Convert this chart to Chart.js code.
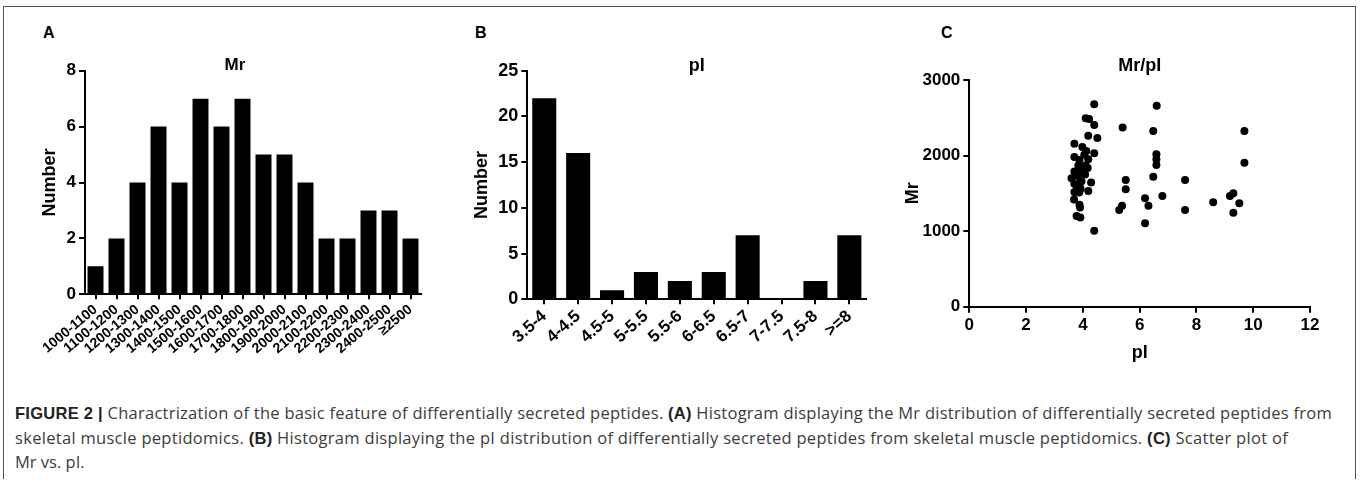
<!DOCTYPE html>
<html>
<head>
<meta charset="utf-8">
<script src="https://cdn.jsdelivr.net/npm/chart.js@4.4.1/dist/chart.umd.min.js"></script>
<style>
  html, body { margin: 0; padding: 0; background: #fff; width: 1360px; height: 489px; overflow: hidden; font-family: "Liberation Sans", Arial, sans-serif; }
  .frame { position: absolute; left: 3px; top: 6px; width: 1351px; height: 472px; border: 1.5px solid #555; border-bottom: none; }
  canvas { position: absolute; top: 40px; }
  .letter { position: absolute; top: 24px; font-weight: bold; font-size: 16px; color: #000; }
  .caption { position: absolute; left: 15px; top: 401px; font-family: "Open Sans", sans-serif; font-size: 16.5px; line-height: 23.5px; color: #3c3c3c; white-space: nowrap; }
  .caption b { color: #222; font-family: "Liberation Sans", Arial, sans-serif; }
  .cap-line { display: inline-block; }
</style>
</head>
<body>
<div class="frame"></div>
<div class="letter" style="left:43px">A</div>
<div class="letter" style="left:475px">B</div>
<div class="letter" style="left:941px">C</div>

<canvas id="mrChart" width="419" height="340" style="left:10px"></canvas>
<canvas id="piChart" width="483" height="340" style="left:455px"></canvas>
<canvas id="scatterChart" width="432" height="340" style="left:890px"></canvas>

<div class="caption">
<span class="cap-line" data-w="1317"><b>FIGURE 2 |</b> Charactrization of the basic feature of differentially secreted peptides. <b>(A)</b> Histogram displaying the Mr distribution of differentially secreted peptides from</span><br>
<span class="cap-line" data-w="1273">skeletal muscle peptidomics. <b>(B)</b> Histogram displaying the pI distribution of differentially secreted peptides from skeletal muscle peptidomics. <b>(C)</b> Scatter plot of</span><br>
<span>Mr vs. pI.</span>
</div>

<script>
// Panel A: Mr histogram
const mrBins = ['1000-1100', '1100-1200', '1200-1300', '1300-1400', '1400-1500', '1500-1600', '1600-1700', '1700-1800',
    '1800-1900', '1900-2000', '2000-2100', '2100-2200', '2200-2300', '2300-2400', '2400-2500', '\u22652500'];
const mrCounts = [1, 2, 4, 6, 4, 7, 6, 7, 5, 5, 4, 2, 2, 3, 3, 2];

// Panel B: pI histogram
const piBins = ['3.5-4', '4-4.5', '4.5-5', '5-5.5', '5.5-6', '6-6.5', '6.5-7', '7-7.5', '7.5-8', '>=8'];
const piCounts = [22, 16, 1, 3, 2, 3, 7, 0, 2, 7];

// Panel C: Mr vs pI, one entry per peptide
const peptidePI = [
    3.70, 3.98, 3.70, 3.88, 3.84, 3.91, 3.70, 3.80, 3.84, 3.60, 3.70, 3.89, 3.95, 3.84, 3.70, 3.92, 3.80, 3.87, 3.69, 3.90, 3.88, 3.78, 3.91,
    4.40, 4.10, 4.22, 4.40, 4.19, 4.51, 4.12, 4.40, 4.05, 4.19, 4.10, 4.17, 4.08, 4.29, 4.19, 4.40,
    5.40, 5.51, 5.51, 5.38, 5.28,
    6.19, 6.31, 6.19,
    6.60, 6.48, 6.59, 6.59, 6.59, 6.48, 6.80,
    7.60, 7.60,
    8.59, 9.18, 9.30, 9.51, 9.30, 9.69, 9.69
];
const peptideMr = [
    2157, 2114, 1981, 1940, 1870, 1812, 1790, 1760, 1725, 1700, 1628, 1628, 1660, 1540, 1518, 1560, 1580, 1510, 1420, 1314, 1350, 1200, 1182,
    2679, 2493, 2484, 2404, 2263, 2232, 2060, 2030, 2010, 1950, 1870, 1834, 1750, 1645, 1531, 1004,
    2370, 1677, 1553, 1337, 1280,
    1434, 1337, 1103,
    2660, 2325, 2017, 1951, 1875, 1720, 1465,
    1677, 1280,
    1382, 1465, 1501, 1368, 1244, 2325, 1906
];

// stretch caption lines to the widths of the printed figure
document.querySelectorAll('.cap-line').forEach(el => {
    const extra = Number(el.dataset.w) - el.getBoundingClientRect().width;
    el.style.letterSpacing = (extra / el.textContent.length) + 'px';
});

Chart.defaults.font.family = '"Liberation Sans", Arial, sans-serif';
Chart.defaults.color = '#000';

const boldFont = size => ({ size: size, weight: 'bold' });
const plainNumber = v => String(v);

function axisLines(tickLength) {
    return {
        grid: { display: true, drawOnChartArea: false, drawTicks: true, tickLength: tickLength, color: '#000', lineWidth: 2, offset: false },
        border: { display: true, color: '#000', width: 2 }
    };
}

function titleOpts(text, size, padTop, padBottom, fullSize) {
    return { display: true, text: text, color: '#000', fullSize: fullSize, font: boldFont(size), padding: { top: padTop, bottom: padBottom } };
}

function renderHistogram(id, labels, counts, cfg) {
    const ctx = document.getElementById(id);
    return new Chart(ctx, {
        type: 'bar',
        data: {
            labels: labels,
            datasets: [{
                data: counts,
                backgroundColor: '#000',
                borderWidth: 0,
                barPercentage: cfg.barPct,
                categoryPercentage: 1
            }]
        },
        options: {
            responsive: false,
            animation: false,
            layout: { padding: { left: cfg.padLeft, right: cfg.padRight, top: 0, bottom: 0 } },
            plugins: {
                legend: { display: false },
                tooltip: { enabled: false },
                title: titleOpts(cfg.title, cfg.titleSize, 14.8, cfg.titleBottom, cfg.titleFull)
            },
            scales: {
                x: {
                    offset: true,
                    ...axisLines(5),
                    ticks: { autoSkip: false, minRotation: cfg.rotation, maxRotation: cfg.rotation, font: boldFont(cfg.xTickSize), padding: 2 },
                    afterFit: s => { s.height = cfg.xHeight; }
                },
                y: {
                    min: 0,
                    max: cfg.yMax,
                    ...axisLines(6),
                    ticks: { stepSize: cfg.yStep, font: boldFont(cfg.yTickSize), padding: 3, callback: plainNumber },
                    title: { display: true, text: 'Number', font: boldFont(18), padding: { top: cfg.yTitlePad, bottom: 0 } },
                    afterFit: s => { s.width = cfg.yWidth; }
                }
            }
        }
    });
}

renderHistogram('mrChart', mrBins, mrCounts, {
    title: 'Mr', titleSize: 17, titleBottom: -4.5, titleFull: true, padLeft: 39, padRight: 8,
    barPct: 0.76, rotation: 40, xTickSize: 14, xHeight: 85.7,
    yMax: 8, yStep: 2, yTickSize: 17, yTitlePad: -9.8, yWidth: 36
});

renderHistogram('piChart', piBins, piCounts, {
    title: 'pI', titleSize: 18, titleBottom: -5.6, titleFull: false, padLeft: 0, padRight: 71.7,
    barPct: 0.71, rotation: 42, xTickSize: 17, xHeight: 80.7,
    yMax: 25, yStep: 5, yTickSize: 18, yTitlePad: 15.9, yWidth: 72.3
});

// Scatter Mr/pI
new Chart(document.getElementById('scatterChart'), {
    type: 'scatter',
    data: {
        datasets: [{
            data: peptidePI.map((p, i) => ({ x: p, y: peptideMr[i] })),
            backgroundColor: '#000',
            borderWidth: 0,
            pointRadius: 4
        }]
    },
    options: {
        responsive: false,
        animation: false,
        layout: { padding: { left: 0, right: 12, top: 0, bottom: 0 } },
        plugins: {
            legend: { display: false },
            tooltip: { enabled: false },
            title: titleOpts('Mr/pI', 18, 14.8, 3.6, false)
        },
        scales: {
            x: {
                type: 'linear',
                min: 0,
                max: 12,
                ...axisLines(6),
                ticks: { stepSize: 2, font: boldFont(17), padding: 2, callback: plainNumber },
                title: { display: true, text: 'pI', font: boldFont(18), padding: { top: 0, bottom: 16.2 } },
                afterFit: s => { s.height = 73.3; }
            },
            y: {
                min: 0,
                max: 3000,
                ...axisLines(6),
                ticks: { stepSize: 1000, font: boldFont(17), padding: 3, callback: plainNumber },
                title: { display: true, text: 'Mr', font: boldFont(18), padding: { top: 12.2, bottom: 0 } },
                afterFit: s => { s.width = 79.3; }
            }
        }
    }
});
</script>
</body>
</html>
